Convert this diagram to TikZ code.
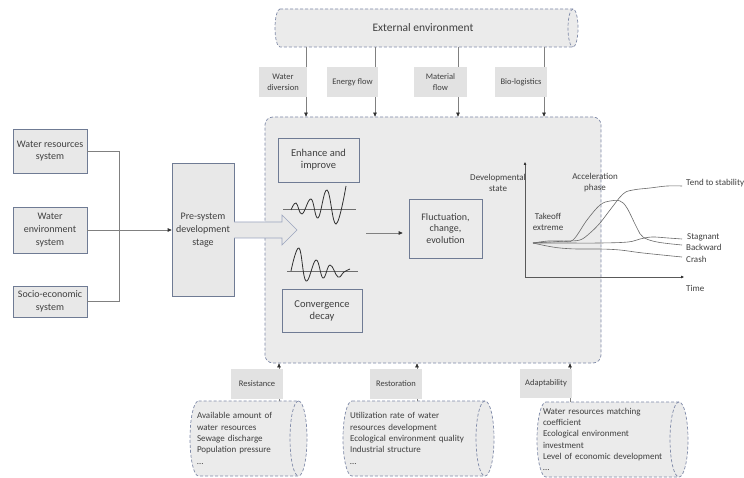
\documentclass[tikz,border=0pt]{standalone}
\usepackage{fontspec}
\setmainfont{Carlito}
\usetikzlibrary{arrows.meta}
\definecolor{txt}{HTML}{3F3F3F}
\definecolor{bord}{HTML}{6F7B94}
\definecolor{dashc}{HTML}{7F8AA8}
\definecolor{boxfill}{HTML}{E8E8E8}
\definecolor{mainfill}{HTML}{EBEBEB}
\definecolor{labfill}{HTML}{E2E2E2}
\definecolor{linec}{HTML}{808080}
\definecolor{arrc}{HTML}{303030}
\definecolor{curvec}{HTML}{6A6A6A}
\definecolor{harrow}{HTML}{9AA4BE}
\newcommand\mycyl[6]{%
  \path[dashb,fill=mainfill] (#1,#3) -- (#2,#3)
    arc[start angle=90,end angle=-90,x radius=#5pt,y radius=#6pt]
    -- (#1,#4) arc[start angle=270,end angle=90,x radius=#5pt,y radius=#6pt] -- cycle;
  \draw[dashb] (#2,#3) arc[start angle=90,end angle=270,x radius=#5pt,y radius=#6pt];}
\begin{document}
\begin{tikzpicture}[x=1pt,y=-1pt,
  sysbox/.style={draw=bord,fill=boxfill,line width=0.6pt,align=center,text=txt,
    font=\fontsize{10}{12.8}\selectfont,inner sep=1pt},
  inbox/.style={draw=bord,line width=0.6pt,align=center,text=txt,
    font=\fontsize{10.5}{12}\selectfont,inner sep=1pt},
  labbox/.style={fill=labfill,align=center,text=txt,
    font=\fontsize{8.5}{11}\selectfont,inner sep=0pt,minimum height=30},
  dashb/.style={draw=dashc,dash pattern=on 3pt off 2pt,line width=0.7pt},
  conn/.style={draw=linec,line width=0.6pt},
  arr/.style={conn,-{Triangle[length=4pt,width=3.5pt,color=arrc]}},
  axarr/.style={draw=arrc!80,line width=0.6pt,-{Triangle[length=3pt,width=2.5pt,color=arrc]}},
  gtxt/.style={text=txt,font=\fontsize{9}{11}\selectfont,align=center,inner sep=0pt},
  cyltxt/.style={text=txt,font=\fontsize{9}{11.3}\selectfont,align=left,inner sep=0pt,minimum height=75},
  curve/.style={draw=curvec,line width=0.6pt}]
\fill[white] (0,0) rectangle (744,478);
\useasboundingbox (0,0) rectangle (744,478);

% external environment
\mycyl{280}{573}{9}{47}{5}{19}
\node[inner sep=0,minimum width=296,minimum height=38,text=txt,
  font=\fontsize{11.5}{13}\selectfont] (ext) at (423,28) {External environment};

% main box
\node[dashb,fill=mainfill,rounded corners=8pt,minimum width=336,minimum height=246,inner sep=0] (main) at (433,240) {};

% top flows
\foreach \n/\x in {t1/306,t2/375,t3/458,t4/544} \coordinate (\n) at (\x,0);
\foreach \n in {t1,t2,t3,t4} \draw[arr] (ext.south -| \n) -- (main.north -| \n);
\node[labbox,minimum width=48] (wd) at (283,82) {Water\\diversion};
\node[labbox,minimum width=51] (ef) at (352.5,82) {Energy flow};
\node[labbox,minimum width=53] (mf) at (440.5,82) {Material\\flow};
\node[labbox,minimum width=52] (bl) at (521,82) {Bio-logistics};

% left systems
\node[sysbox,minimum width=74,minimum height=44] (wr) at (50,151) {Water resources\\system};
\node[sysbox,minimum width=74,minimum height=46] (we) at (50,230) {Water\\environment\\system};
\node[sysbox,minimum width=74,minimum height=31] (se) at (50,301.5) {Socio-economic\\system};
\node[sysbox,minimum width=62,minimum height=133] (pre) at (203,230) {Pre-system\\development\\stage};
\draw[conn] (wr.east) -- ++(32,0) |- (se.east);
\draw[arr] (we.east) -- (pre.west);

% hollow arrow
\draw[draw=harrow,fill=boxfill,line width=0.6pt] (234,222) -- (282,222) -- (282,215) -- (297,230)
  -- (282,245) -- (282,238) -- (234,238);

% inner boxes
\node[inbox,minimum width=81,minimum height=44] (en) at (318.5,160) {Enhance and\\improve};
\node[inbox,minimum width=80,minimum height=43] (cd) at (322,310.5) {Convergence\\decay};
\node[inbox,minimum width=73,minimum height=59,font=\fontsize{10}{11.8}\selectfont] (fl) at (445.5,228.5) {Fluctuation,\\change,\\evolution};
\coordinate (a0) at (366,233);
\draw[arr,shorten >=6pt] (a0) -- (a0 -| fl.west);

% waves
\draw[draw=arrc!70,line width=0.5pt] (283,209) -- (356,209);
\draw[draw=arrc,line width=0.8pt] plot[smooth,tension=0.7] coordinates
  {(291,210) (296,203) (302,214) (311,199) (318,218) (327,190) (336,224) (346,186)};
\draw[draw=arrc!70,line width=0.5pt] (287,271) -- (358,271);
\draw[draw=arrc,line width=0.8pt] plot[smooth,tension=0.7] coordinates
  {(291,271) (299,248) (306,281) (316,260) (323,278) (330,265) (338,277) (344,272) (350,269)};

% graph
\coordinate (o) at (525,277);
\coordinate (ytop) at (525,162);
\coordinate (xend) at (684,277);
\draw[axarr] (o) -- (ytop);
\draw[axarr] (o) -- (xend);
\node[gtxt] (ds) at (498,183) {Developmental\\state};
\node[gtxt] (ap) at (595,183) {Acceleration\\phase};
\node[gtxt] (te) at (548,222) {Takeoff\\extreme};
\node[gtxt,anchor=west] (ts) at (686,183) {Tend to stability};
\node[gtxt,anchor=west] (sg) at (687,237) {Stagnant};
\node[gtxt,anchor=west] (bw) at (686,247) {Backward};
\node[gtxt,anchor=west] (cr) at (686,259) {Crash};
\node[gtxt,anchor=west] (tm) at (686,288) {Time};
\draw[curve] plot[smooth,tension=0.6] coordinates
  {(533,243) (550,242) (566,241) (580,240) (590,233) (600,223) (610,210) (623,194) (633,190) (650,188) (667,186) (682,186)};
\draw[curve] plot[smooth,tension=0.6] coordinates
  {(533,243) (548,241) (562,241) (573,240) (587,220) (600,205) (610,201) (620,201) (627,208) (637,228) (643,237) (657,242) (682,245)};
\draw[curve] plot[smooth,tension=0.6] coordinates
  {(533,243) (560,243) (600,243) (628,242) (640,239) (652,237) (668,238) (682,239)};
\draw[curve] plot[smooth,tension=0.6] coordinates
  {(533,243) (547,246) (560,248) (577,249) (600,249) (620,250) (643,253) (682,257)};

% bottom cylinders
\mycyl{198.5}{298.5}{401}{476}{8.5}{37.5}
\mycyl{352}{485}{401}{476}{9}{37.5}
\mycyl{546}{679}{402}{477}{9}{37.5}
\node[cyltxt,text width=103] (c1) at (248.5,438.5) {Available amount of\\water resources\\Sewage discharge\\Population pressure\\\dots};
\node[cyltxt,text width=137] (c2) at (418.5,438.5) {Utilization rate of water\\resources development\\Ecological environment quality\\Industrial structure\\\dots};
\node[cyltxt,text width=139] (c3) at (612.5,439.5) {Water resources matching\\coefficient\\Ecological environment\\investment\\Level of economic development\\\dots};
\foreach \n/\x in {b1/279,b2/417,b3/570} \coordinate (\n) at (\x,0);
\draw[arr] (c1.north -| b1) -- (main.south -| b1);
\draw[arr] (c2.north -| b2) -- (main.south -| b2);
\draw[arr] (c3.north -| b3) -- (main.south -| b3);
\node[labbox,minimum width=52] (rs) at (257,384) {Resistance};
\node[labbox,minimum width=52] (rt) at (396,384) {Restoration};
\node[labbox,minimum width=52,minimum height=29] (ad) at (546,383.5) {Adaptability};
\end{tikzpicture}
\end{document}
